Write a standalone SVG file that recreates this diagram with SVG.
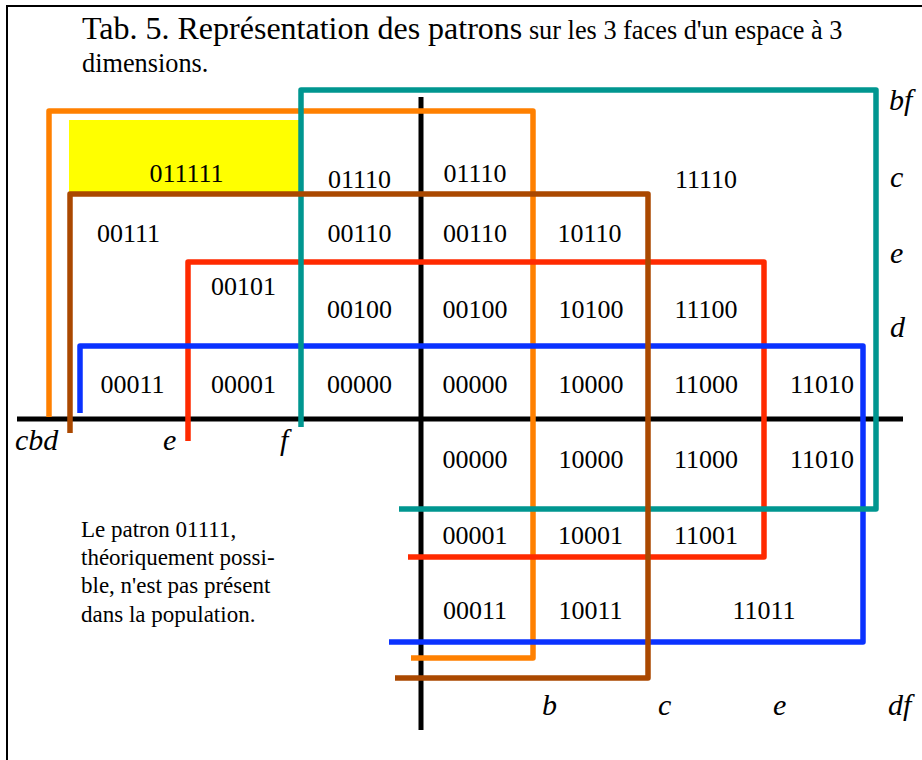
<svg xmlns="http://www.w3.org/2000/svg" width="922" height="760" viewBox="0 0 922 760">
<style>
text{font-family:'Liberation Serif','Times New Roman',serif;fill:#000}
.cell{font-size:26px;text-anchor:middle}
.ax{font-size:30px;font-style:italic}
.note{font-size:23px}
.ln{fill:none;stroke-width:5.5;stroke-linejoin:round;stroke-linecap:butt}
</style>
<rect width="922" height="760" fill="#fff"/>
<path d="M7 760 V6 H922" fill="none" stroke="#000" stroke-width="2"/>
<g id="title">
<text x="82" y="39"><tspan font-size="32">Tab. 5. Représentation des patrons</tspan><tspan font-size="26.3"> sur les 3 faces d'un espace à 3</tspan></text>
<text x="82" y="72" font-size="26.3">dimensions.</text>
</g>
<rect id="absent-cell" x="69" y="120" width="230" height="73" fill="#ffff00"/>
<g id="connectors">
<path id="axis-h" d="M17 419 H903" fill="none" stroke="#000" stroke-width="5"/>
<path id="axis-v" d="M421 97 V730" fill="none" stroke="#000" stroke-width="5"/>
<path id="b-orange" class="ln" stroke="#ff8000" d="M49 417 V111 H533 V658 H411"/>
<path id="e-red" class="ln" stroke="#ff2a00" d="M188 441 V262 H764 V557 H408"/>
<path id="d-blue" class="ln" stroke="#0a32ff" d="M80 413 V346 H863 V642 H389"/>
<path id="f-teal" class="ln" stroke="#009690" d="M301 427 V90 H876 V509 H399"/>
<path id="c-brown" class="ln" stroke="#aa4800" d="M70 433 V194 H648 V678 H395"/>
</g>
<g id="cells">
<text class="cell" x="186.5" y="182">011111</text>
<text class="cell" x="359.5" y="188">01110</text>
<text class="cell" x="475" y="182">01110</text>
<text class="cell" x="706" y="188">11110</text>
<text class="cell" x="128.5" y="242">00111</text>
<text class="cell" x="359.5" y="242">00110</text>
<text class="cell" x="475" y="242">00110</text>
<text class="cell" x="589.5" y="242">10110</text>
<text class="cell" x="243.5" y="295">00101</text>
<text class="cell" x="359.5" y="318">00100</text>
<text class="cell" x="475" y="318">00100</text>
<text class="cell" x="591" y="318">10100</text>
<text class="cell" x="706" y="318">11100</text>
<text class="cell" x="132.5" y="393">00011</text>
<text class="cell" x="243.5" y="393">00001</text>
<text class="cell" x="359.5" y="393">00000</text>
<text class="cell" x="475" y="393">00000</text>
<text class="cell" x="591" y="393">10000</text>
<text class="cell" x="706" y="393">11000</text>
<text class="cell" x="822" y="393">11010</text>
<text class="cell" x="475" y="468">00000</text>
<text class="cell" x="591" y="468">10000</text>
<text class="cell" x="706" y="468">11000</text>
<text class="cell" x="822" y="468">11010</text>
<text class="cell" x="475" y="544">00001</text>
<text class="cell" x="590.5" y="544">10001</text>
<text class="cell" x="706" y="544">11001</text>
<text class="cell" x="475" y="619">00011</text>
<text class="cell" x="590.5" y="619">10011</text>
<text class="cell" x="764" y="619">11011</text>
</g>
<g id="axis-labels">
<text class="ax" x="889" y="110">bf</text>
<text class="ax" x="890" y="187">c</text>
<text class="ax" x="890" y="263">e</text>
<text class="ax" x="890" y="337">d</text>
<text class="ax" x="15" y="450">cbd</text>
<text class="ax" x="163" y="450">e</text>
<text class="ax" x="280" y="450">f</text>
<text class="ax" x="542" y="715">b</text>
<text class="ax" x="658" y="715">c</text>
<text class="ax" x="773" y="715">e</text>
<text class="ax" x="888" y="715">df</text>
</g>
<g id="note">
<text class="note" x="81" y="537">Le patron 01111,</text>
<text class="note" x="81" y="565">théoriquement possi-</text>
<text class="note" x="81" y="593">ble, n'est pas présent</text>
<text class="note" x="81" y="622">dans la population.</text>
</g>
</svg>
